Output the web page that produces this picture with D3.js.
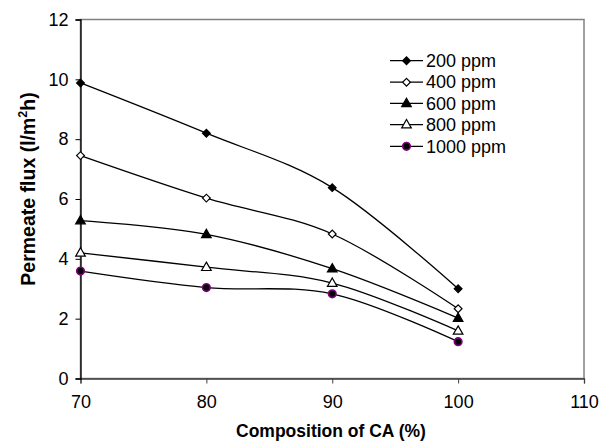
<!DOCTYPE html>
<html>
<head>
<meta charset="utf-8">
<script src="https://cdn.jsdelivr.net/npm/d3@7"></script>
<style>
  body { margin: 0; background: #fff; }
  text { font-family: "Liberation Sans", Arial, sans-serif; fill: #000; }
</style>
</head>
<body>
<svg id="chart" width="603" height="441"></svg>
<script>
const compositions = [70, 80, 90, 100];
const seriesNames = ["200 ppm", "400 ppm", "600 ppm", "800 ppm", "1000 ppm"];
const flux200 = [9.88, 8.2, 6.38, 3.0];
const flux400 = [7.45, 6.03, 4.83, 2.33];
const flux600 = [5.28, 4.82, 3.67, 2.02];
const flux800 = [4.2, 3.72, 3.19, 1.59];
const flux1000 = [3.59, 3.04, 2.83, 1.23];
const xTicks = [70, 80, 90, 100, 110];
const yTicks = [0, 2, 4, 6, 8, 10, 12];

const allSeries = [flux200, flux400, flux600, flux800, flux1000];
const markerTypes = ["diamondFilled", "diamondOpen", "triangleFilled", "triangleOpen", "circle"];

const svg = d3.select("#chart");
const plotLeft = 80.5, plotRight = 584, plotTop = 19.5, plotBottom = 378.5;

const x = d3.scaleLinear().domain([70, 110]).range([plotLeft, plotRight]);
const y = d3.scaleLinear().domain([0, 12]).range([plotBottom, plotTop]);

// plot area border (gray)
svg.append("rect")
  .attr("x", plotLeft).attr("y", plotTop)
  .attr("width", plotRight - plotLeft).attr("height", plotBottom - plotTop)
  .attr("fill", "none").attr("stroke", "#808080").attr("stroke-width", 1.5);

// x axis
const xAxis = svg.append("g").attr("transform", `translate(0,${plotBottom})`)
  .call(d3.axisBottom(x).tickValues(xTicks).tickSize(5).tickPadding(12).tickFormat(d3.format("d")));
xAxis.select(".domain").attr("stroke", "#404040").attr("stroke-width", 1.3);
xAxis.selectAll(".tick line").attr("stroke", "#404040");
xAxis.selectAll("text").style("font-size", "18px").attr("fill", "#000");

// y axis
const yAxis = svg.append("g").attr("transform", `translate(${plotLeft},0)`)
  .call(d3.axisLeft(y).tickValues(yTicks).tickSize(5).tickPadding(7).tickFormat(d3.format("d")));
yAxis.select(".domain").attr("stroke", "#000").attr("stroke-width", 1.3);
yAxis.selectAll(".tick line").attr("stroke", "#000");
yAxis.selectAll("text").style("font-size", "18px").attr("fill", "#000");

// axis titles
svg.append("text")
  .attr("x", 331).attr("y", 437)
  .attr("text-anchor", "middle")
  .style("font-size", "17.5px").style("font-weight", "bold")
  .text("Composition of CA (%)");

const yt = svg.append("text")
  .attr("transform", "translate(35,189) rotate(-90)")
  .attr("text-anchor", "middle")
  .style("font-size", "19.5px").style("font-weight", "bold");
yt.append("tspan").text("Permeate flux (l/m");
yt.append("tspan").attr("dy", -8).style("font-size", "12.5px").text("2");
yt.append("tspan").attr("dy", 8).text("h)");

// lines
const line = d3.line()
  .x((d, i) => x(compositions[i]))
  .y(d => y(d))
  .curve(d3.curveCardinal.tension(0));

function drawMarker(g, type, cx, cy) {
  if (type.startsWith("diamond")) {
    g.append("path")
      .attr("d", d3.symbol().type(d3.symbolSquare).size(30)())
      .attr("transform", `translate(${cx},${cy}) rotate(45)`)
      .attr("fill", type === "diamondFilled" ? "#000" : "#fff")
      .attr("stroke", "#000").attr("stroke-width", 1.2);
  } else if (type.startsWith("triangle")) {
    g.append("path")
      .attr("d", d3.symbol().type(d3.symbolTriangle).size(40)())
      .attr("transform", `translate(${cx},${cy + 0.5})`)
      .attr("fill", type === "triangleFilled" ? "#000" : "#fff")
      .attr("stroke", "#000").attr("stroke-width", 1.2);
  } else {
    g.append("circle")
      .attr("cx", cx).attr("cy", cy).attr("r", 3.8)
      .attr("fill", "#000")
      .attr("stroke", "#800080").attr("stroke-width", 1.6);
  }
}

const plot = svg.append("g");
allSeries.forEach((vals) => {
  plot.append("path")
    .datum(vals)
    .attr("d", line)
    .attr("fill", "none")
    .attr("stroke", "#000")
    .attr("stroke-width", 1.3);
});
allSeries.forEach((vals, s) => {
  const g = plot.append("g");
  vals.forEach((v, i) => drawMarker(g, markerTypes[s], x(compositions[i]), y(v)));
});

// legend
const legendY = [60.7, 82.2, 103.3, 124.6, 146.3];
const legend = svg.append("g");
seriesNames.forEach((name, s) => {
  const ly = legendY[s];
  legend.append("line")
    .attr("x1", 390).attr("x2", 423).attr("y1", ly).attr("y2", ly)
    .attr("stroke", "#000").attr("stroke-width", 1.3);
  drawMarker(legend, markerTypes[s], 406.5, ly);
  legend.append("text")
    .attr("x", 426).attr("y", ly + 6.2)
    .style("font-size", "18px")
    .text(name);
});
</script>
</body>
</html>
